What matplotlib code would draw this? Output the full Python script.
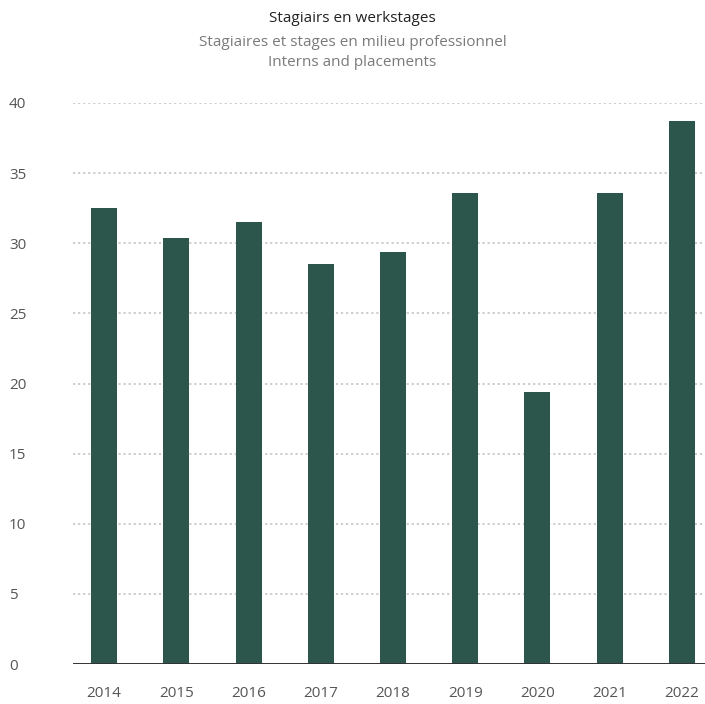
import matplotlib.pyplot as plt

years = ['2014', '2015', '2016', '2017', '2018', '2019', '2020', '2021', '2022']
values = [32.5, 30.4, 31.5, 28.5, 29.4, 33.6, 19.4, 33.6, 38.7]
yticks = [0, 5, 10, 15, 20, 25, 30, 35, 40]

plt.rcParams['font.family'] = ['Open Sans', 'DejaVu Sans']

fig = plt.figure(figsize=(7.05, 7.04), dpi=100)
ax = fig.add_axes([73 / 705, 40 / 704, 632 / 705, 561 / 704])

x = list(range(len(years)))
ax.bar(x, values, width=0.36, color='#2c564b', zorder=3)

ax.set_xlim(-0.43, 8.32)
ax.set_ylim(0, 40)
ax.set_xticks(x)
ax.set_xticklabels(years)
ax.set_yticks(yticks)
ax.set_yticklabels([str(t) for t in yticks])
for lab in ax.get_yticklabels():
    lab.set_horizontalalignment('left')

ax.tick_params(axis='y', length=0, pad=46, labelsize=11, labelcolor='#555555')
ax.tick_params(axis='x', length=0, pad=16, labelsize=11, labelcolor='#555555')

for t in yticks[1:]:
    ax.axhline(t, color='#c8c8c8', linewidth=1.3, linestyle=(0, (1.2, 1.6)), zorder=1)
ax.axhline(0, color='#333333', linewidth=1.4, zorder=4)

for s in ax.spines.values():
    s.set_visible(False)

fig.text(0.5, 1 - 19 / 704, 'Stagiairs en werkstages', ha='center', va='center',
         fontsize=11, color='#222222')
fig.text(0.5, 1 - 43 / 704, 'Stagiaires et stages en milieu professionnel', ha='center',
         va='center', fontsize=11, color='#7a7a7a')
fig.text(0.5, 1 - 63 / 704, 'Interns and placements', ha='center', va='center',
         fontsize=11, color='#7a7a7a')

fig.savefig('out.png', dpi=100)
